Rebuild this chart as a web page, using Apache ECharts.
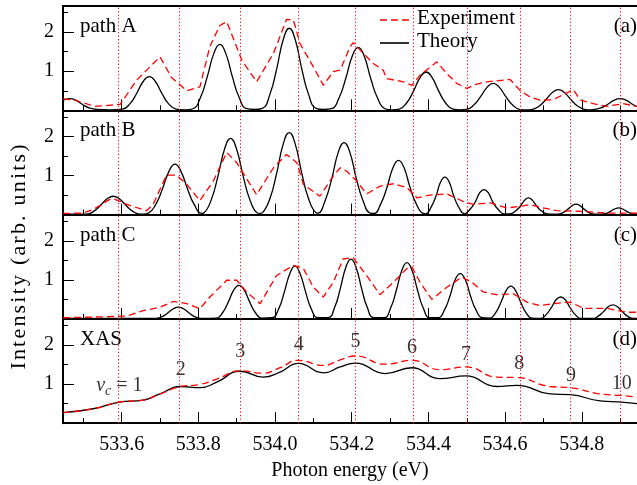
<!DOCTYPE html>
<html><head><meta charset="utf-8">
<script src="https://cdn.jsdelivr.net/npm/echarts@6/dist/echarts.min.js"></script>
<style>html,body{margin:0;padding:0;background:#fff}#c{width:637px;height:485px}</style>
</head><body><div id="c"></div>
<script>
const XMIN = 533.447, XMAX = 534.944, YMAX = 2.67;
const xTicksMajor = [533.6,533.8,534.0,534.2,534.4,534.6,534.8];
const xTicksMinor = [533.5,533.7,533.9,534.1,534.3,534.5,534.7,534.9];
const yTicksMajor = [1,2];
const yTicksMinor = [0.5,1.5,2.5];
const vibLines = [533.594,533.754,533.909,534.062,534.210,534.357,534.498,534.637,534.772,534.904];
const vibLabels = ['{i|v}{s|c}{n| = 1}','2','3','4','5','6','7','8','9','10'];
const vibLabelY = [0.93,1.37,1.83,2.01,2.09,1.93,1.75,1.52,1.21,1.01];
const panelNames = ['path A','path B','path C','XAS'];
const panelTags = ['(a)','(b)','(c)','(d)'];
const legendNames = ['Experiment','Theory'];
const yTitle = 'Intensity (arb. units)';
const xTitle = 'Photon energy (eV)';

const theoryA = [[533.447,0.26],[533.465,0.30],[533.480,0.26],[533.498,0.15],[533.515,0.06],[533.535,0.02],[533.570,0.01],
[533.602,0.03],[533.622,0.17],[533.639,0.43],[533.657,0.75],[533.672,0.86],[533.687,0.75],[533.705,0.43],[533.722,0.17],[533.742,0.03],[533.764,0.01],
[533.786,0.04],[533.806,0.34],[533.823,0.85],[533.841,1.47],[533.856,1.69],[533.871,1.47],[533.889,0.85],[533.906,0.34],[533.926,0.04],[533.946,0.02],
[533.967,0.05],[533.987,0.42],[534.004,1.05],[534.022,1.83],[534.037,2.10],[534.052,1.83],[534.070,1.05],[534.087,0.42],[534.107,0.05],[534.127,0.02],
[534.147,0.04],[534.167,0.32],[534.184,0.80],[534.202,1.40],[534.217,1.61],[534.232,1.40],[534.250,0.80],[534.267,0.32],[534.287,0.04],[534.305,0.01],
[534.324,0.03],[534.344,0.20],[534.361,0.49],[534.379,0.85],[534.394,0.98],[534.409,0.85],[534.427,0.49],[534.444,0.20],[534.464,0.03],[534.481,0.01],
[534.499,0.02],[534.519,0.14],[534.536,0.35],[534.554,0.60],[534.569,0.69],[534.584,0.60],[534.602,0.35],[534.619,0.14],[534.639,0.02],[534.654,0.01],
[534.669,0.02],[534.689,0.11],[534.706,0.27],[534.724,0.46],[534.739,0.53],[534.754,0.46],[534.772,0.27],[534.789,0.11],[534.809,0.02],[534.820,0.01],
[534.830,0.02],[534.850,0.06],[534.867,0.15],[534.885,0.26],[534.900,0.30],[534.915,0.26],[534.933,0.15],[534.944,0.09]];
const expA = [[533.447,0.29],[533.457,0.28],[533.474,0.27],[533.530,0.10],[533.596,0.15],[533.639,0.77],[533.700,1.37],[533.730,0.84],[533.770,0.50],[533.804,0.60],[533.830,1.63],[533.856,2.17],[533.874,2.27],[533.913,1.29],[533.952,0.73],[533.996,1.46],[534.030,2.33],[534.048,2.31],[534.065,1.71],[534.100,1.11],[534.126,0.64],[534.152,0.99],[534.170,1.03],[534.196,1.63],[534.204,1.73],[534.222,1.54],[534.256,1.20],[534.282,1.03],[534.291,0.81],[534.335,0.73],[534.357,0.64],[534.378,0.90],[534.422,1.24],[534.448,0.94],[534.474,0.69],[534.500,0.56],[534.526,0.67],[534.552,0.73],[534.613,0.79],[534.639,0.51],[534.665,0.34],[534.691,0.26],[534.725,0.27],[534.778,0.53],[534.796,0.26],[534.830,0.17],[534.865,0.10],[534.908,0.17],[534.944,0.10]];

const theoryB = [[533.447,0.01],[533.480,0.01],
[533.508,0.01],[533.528,0.09],[533.545,0.24],[533.563,0.41],[533.578,0.47],[533.593,0.41],[533.611,0.24],[533.628,0.09],[533.648,0.01],[533.658,0.01],
[533.669,0.03],[533.689,0.26],[533.706,0.65],[533.724,1.12],[533.739,1.29],[533.754,1.12],[533.772,0.65],[533.789,0.26],[533.809,0.03],
[533.814,0.04],[533.834,0.39],[533.851,0.98],[533.869,1.70],[533.884,1.95],[533.899,1.70],[533.917,0.98],[533.934,0.39],[533.954,0.04],[533.960,0.03],
[533.967,0.05],[533.987,0.42],[534.004,1.05],[534.022,1.83],[534.037,2.10],[534.052,1.83],[534.070,1.05],[534.087,0.42],[534.107,0.05],
[534.112,0.04],[534.131,0.37],[534.148,0.92],[534.165,1.60],[534.180,1.84],[534.195,1.60],[534.212,0.92],[534.229,0.37],[534.248,0.04],
[534.258,0.03],[534.276,0.28],[534.292,0.70],[534.308,1.21],[534.322,1.39],[534.336,1.21],[534.352,0.70],[534.368,0.28],[534.386,0.03],
[534.393,0.02],[534.407,0.19],[534.420,0.48],[534.432,0.84],[534.443,0.96],[534.454,0.84],[534.466,0.48],[534.479,0.19],[534.494,0.02],
[534.508,0.13],[534.522,0.32],[534.534,0.56],[534.545,0.64],[534.556,0.56],[534.568,0.32],[534.582,0.13],[534.598,0.02],
[534.613,0.02],[534.627,0.09],[534.640,0.22],[534.651,0.37],[534.661,0.43],[534.671,0.37],[534.682,0.22],[534.695,0.09],[534.710,0.02],[534.724,0.01],
[534.737,0.01],[534.751,0.05],[534.764,0.14],[534.775,0.23],[534.785,0.27],[534.795,0.23],[534.806,0.14],[534.819,0.05],[534.834,0.01],
[534.850,0.01],[534.864,0.03],[534.876,0.09],[534.887,0.15],[534.896,0.17],[534.905,0.15],[534.916,0.09],[534.929,0.03],[534.944,0.01]];
const expB = [[533.447,0.03],[533.500,0.04],[533.526,0.13],[533.569,0.39],[533.578,0.41],[533.613,0.26],[533.665,0.10],[533.682,0.26],[533.717,1.01],[533.743,1.01],[533.770,0.77],[533.804,0.36],[533.839,0.86],[533.874,1.59],[533.900,1.33],[533.952,0.51],[533.996,1.20],[534.030,1.54],[534.057,1.33],[534.074,0.77],[534.117,0.47],[534.152,0.99],[534.170,1.20],[534.187,1.11],[534.209,0.90],[534.239,0.53],[534.274,0.73],[534.309,0.79],[534.344,0.69],[534.370,0.43],[534.404,0.50],[534.448,0.53],[534.490,0.34],[534.517,0.26],[534.561,0.30],[534.604,0.17],[534.639,0.21],[534.665,0.26],[534.691,0.19],[534.735,0.10],[534.777,0.09],[534.822,0.07],[534.865,0.04],[534.944,0.04]];

const theoryC = [[533.447,0.01],[533.600,0.01],
[533.688,0.01],[533.706,0.06],[533.720,0.15],[533.735,0.26],[533.748,0.30],[533.761,0.26],[533.776,0.15],[533.790,0.06],[533.808,0.01],
[533.846,0.02],[533.864,0.17],[533.878,0.43],[533.893,0.75],[533.906,0.86],[533.919,0.75],[533.934,0.43],[533.948,0.17],[533.966,0.02],
[533.992,0.03],[534.010,0.27],[534.024,0.68],[534.039,1.17],[534.052,1.35],[534.065,1.17],[534.080,0.68],[534.094,0.27],[534.112,0.03],
[534.138,0.03],[534.156,0.31],[534.170,0.77],[534.185,1.33],[534.198,1.53],[534.211,1.33],[534.226,0.77],[534.240,0.31],[534.258,0.03],
[534.284,0.03],[534.302,0.29],[534.316,0.72],[534.331,1.25],[534.344,1.44],[534.357,1.25],[534.372,0.72],[534.386,0.29],[534.404,0.03],
[534.425,0.03],[534.442,0.23],[534.456,0.58],[534.470,1.01],[534.483,1.16],[534.496,1.01],[534.510,0.58],[534.524,0.23],[534.541,0.03],
[534.560,0.02],[534.576,0.17],[534.589,0.42],[534.603,0.73],[534.615,0.84],[534.627,0.73],[534.641,0.42],[534.654,0.17],[534.670,0.02],
[534.692,0.01],[534.707,0.11],[534.720,0.28],[534.733,0.49],[534.745,0.56],[534.757,0.49],[534.770,0.28],[534.783,0.11],[534.798,0.01],
[534.828,0.01],[534.843,0.07],[534.856,0.18],[534.869,0.31],[534.881,0.36],[534.893,0.31],[534.906,0.18],[534.919,0.07],[534.934,0.01],[534.944,0.01]];
const expC = [[533.447,0.03],[533.496,0.04],[533.613,0.07],[533.656,0.21],[533.700,0.30],[533.735,0.45],[533.770,0.39],[533.804,0.26],[533.830,0.56],[533.874,0.99],[533.900,0.99],[533.926,0.69],[533.961,0.39],[534.004,1.11],[534.048,1.37],[534.074,1.29],[534.100,0.81],[534.126,0.56],[534.152,0.94],[534.178,1.54],[534.204,1.56],[534.239,1.11],[534.274,0.62],[534.309,0.94],[534.344,1.29],[534.357,1.33],[534.378,0.94],[534.409,0.50],[534.448,0.81],[534.487,1.07],[534.513,0.94],[534.543,0.69],[534.578,0.62],[534.622,0.64],[534.657,0.43],[534.691,0.34],[534.726,0.39],[534.770,0.43],[534.804,0.27],[534.865,0.27],[534.918,0.17],[534.944,0.17]];

const theoryD = [[533.447,0.27],[533.526,0.37],[533.594,0.54],[533.656,0.59],[533.700,0.75],[533.754,0.94],[533.804,0.91],[533.848,1.05],[533.909,1.33],[533.969,1.18],[534.013,1.31],[534.061,1.53],[534.126,1.29],[534.170,1.44],[534.210,1.54],[534.287,1.27],[534.357,1.42],[534.430,1.14],[534.498,1.21],[534.578,0.94],[534.631,0.97],[534.717,0.75],[534.770,0.73],[534.848,0.57],[534.904,0.54],[534.944,0.50]];
const expD = [[533.447,0.27],[533.526,0.37],[533.594,0.54],[533.656,0.59],[533.700,0.75],[533.754,0.94],[533.804,0.99],[533.848,1.13],[533.909,1.34],[533.969,1.28],[534.013,1.42],[534.061,1.61],[534.126,1.48],[534.170,1.62],[534.210,1.72],[534.287,1.51],[534.357,1.61],[534.430,1.37],[534.498,1.44],[534.578,1.18],[534.631,1.17],[534.717,0.94],[534.770,0.91],[534.848,0.75],[534.904,0.71],[534.944,0.67]];

const theories = [theoryA, theoryB, theoryC, theoryD];
const exps = [expA, expB, expC, expD];

const FONT = '"Liberation Serif", "Times New Roman", serif';
const FS = 20, FS2 = 21;
const PANEL_TOP = 6, PANEL_H = 104.3, LEFT = 63;
const RED = '#ff0000';

const grid = [], xAxis = [], yAxis = [], series = [], graphic = [];
for (let i = 0; i < 4; i++) grid.push({left: LEFT, right: 0, top: PANEL_TOP + i * PANEL_H, height: PANEL_H});
for (let i = 0; i < 4; i++) grid.push({left: LEFT, right: 0, top: PANEL_TOP + i * PANEL_H, height: PANEL_H});
grid.push({left: LEFT, right: 0, top: 74, height: 366});

for (let i = 0; i < 4; i++) {
  xAxis.push({
    type: 'value', gridIndex: i, min: XMIN, max: XMAX, position: 'bottom',
    axisLine: {show: true, onZero: false, lineStyle: {color: '#000', width: 2}},
    axisTick: {show: true, inside: true, length: 11, customValues: xTicksMajor, lineStyle: {color: '#000', width: 1}},
    axisLabel: {show: i === 3, customValues: xTicksMajor, formatter: v => v.toFixed(1), margin: 12,
      fontSize: FS, fontFamily: FONT, color: '#000'},
    splitLine: {show: false},
    name: i === 3 ? xTitle : '', nameLocation: 'middle', nameGap: 38,
    nameTextStyle: {fontSize: FS, fontFamily: FONT, color: '#000'}
  });
  yAxis.push({
    type: 'value', gridIndex: i, min: 0, max: YMAX,
    axisLine: {show: true, lineStyle: {color: '#000', width: 2}},
    axisTick: {show: true, inside: true, length: 11, customValues: yTicksMajor, lineStyle: {color: '#000', width: 1}},
    axisLabel: {show: true, customValues: yTicksMajor, margin: 9, fontSize: FS, fontFamily: FONT, color: '#000'},
    splitLine: {show: false}
  });
}
for (let i = 0; i < 4; i++) {
  xAxis.push({
    type: 'value', gridIndex: 4 + i, min: XMIN, max: XMAX,
    axisLine: {show: false},
    axisTick: {show: true, inside: true, length: 5, customValues: xTicksMinor, lineStyle: {color: '#000', width: 1}},
    axisLabel: {show: false}, splitLine: {show: false}
  });
  yAxis.push({
    type: 'value', gridIndex: 4 + i, min: 0, max: YMAX,
    axisLine: {show: false},
    axisTick: {show: true, inside: true, length: 5, customValues: yTicksMinor, lineStyle: {color: '#000', width: 1}},
    axisLabel: {show: false}, splitLine: {show: false}
  });
}
xAxis.push({type: 'value', gridIndex: 0, min: XMIN, max: XMAX, position: 'top',
  axisLine: {show: true, onZero: false, lineStyle: {color: '#000', width: 2}},
  axisTick: {show: false}, axisLabel: {show: false}, splitLine: {show: false}});
xAxis.push({type: 'value', gridIndex: 8, show: false, min: 0, max: 1});
yAxis.push({type: 'value', gridIndex: 8, min: 0, max: 1,
  axisLine: {show: false}, axisTick: {show: false}, axisLabel: {show: false}, splitLine: {show: false},
  name: yTitle.split('').map(ch => '{c|' + ch + '}').join(''),
  nameLocation: 'middle', nameGap: 35, nameRotate: 90,
  nameTextStyle: {fontSize: 22, fontFamily: FONT, color: '#000',
    rich: {c: {fontSize: 22, fontFamily: FONT, color: '#000', padding: [0, 1.1, 0, 1.1]}}}});

for (let i = 0; i < 4; i++) {
  series.push({
    name: legendNames[1], type: 'line', xAxisIndex: i, yAxisIndex: i, data: theories[i],
    smooth: 0.5, symbol: 'none', lineStyle: {color: '#000', width: 1.3}, itemStyle: {color: '#000'}, z: 3,
    markLine: {silent: true, symbol: 'none', label: {show: false}, animation: false,
      lineStyle: {type: [1.2, 2.3], color: RED, width: 1},
      data: vibLines.map(v => ({xAxis: v}))}
  });
  series.push({
    name: legendNames[0], type: 'line', xAxisIndex: i, yAxisIndex: i, data: exps[i],
    smooth: i === 3 ? 0.5 : false, symbol: 'none',
    lineStyle: {color: RED, width: 1.3, type: [7, 4]}, itemStyle: {color: RED}, z: 4
  });
  graphic.push({type: 'text', left: 80, top: PANEL_TOP + i * PANEL_H + 10,
    style: {text: panelNames[i], font: FS2 + 'px ' + FONT, fill: '#000'}});
  graphic.push({type: 'text', right: 0, top: PANEL_TOP + i * PANEL_H + 10,
    style: {text: panelTags[i], font: FS2 + 'px ' + FONT, fill: '#000'}});
}
graphic.push({type: 'line', shape: {x1: 380, y1: 20, x2: 413, y2: 20}, style: {stroke: RED, lineWidth: 1.3, lineDash: [7, 4]}});
graphic.push({type: 'line', shape: {x1: 380, y1: 43, x2: 409, y2: 43}, style: {stroke: '#000', lineWidth: 1.6}});
graphic.push({type: 'text', left: 417, top: 8, style: {text: legendNames[0], font: FS2 + 'px ' + FONT, fill: '#000'}});
graphic.push({type: 'text', left: 417, top: 31, style: {text: legendNames[1], font: FS2 + 'px ' + FONT, fill: '#000'}});

series.push({
  name: 'labels', type: 'scatter', xAxisIndex: 3, yAxisIndex: 3, symbolSize: 0, silent: true,
  data: vibLines.map((x, k) => ({value: [x, vibLabelY[k]], label: {formatter: vibLabels[k]}})),
  label: {show: true, position: 'inside', fontSize: FS, fontFamily: FONT, color: '#000',
    rich: {
      i: {fontSize: FS, fontFamily: FONT, fontStyle: 'italic', color: '#000', lineHeight: 23, verticalAlign: 'top'},
      s: {fontSize: 14, fontFamily: FONT, fontStyle: 'italic', color: '#000', lineHeight: 23, verticalAlign: 'bottom'},
      n: {fontSize: FS, fontFamily: FONT, color: '#000', lineHeight: 23, verticalAlign: 'top'}
    }}
});

const chart = echarts.init(document.getElementById('c'), null, {renderer: 'canvas'});
chart.setOption({
  animation: false,
  backgroundColor: '#fff',
  grid, xAxis, yAxis, series, graphic
});
</script></body></html>
